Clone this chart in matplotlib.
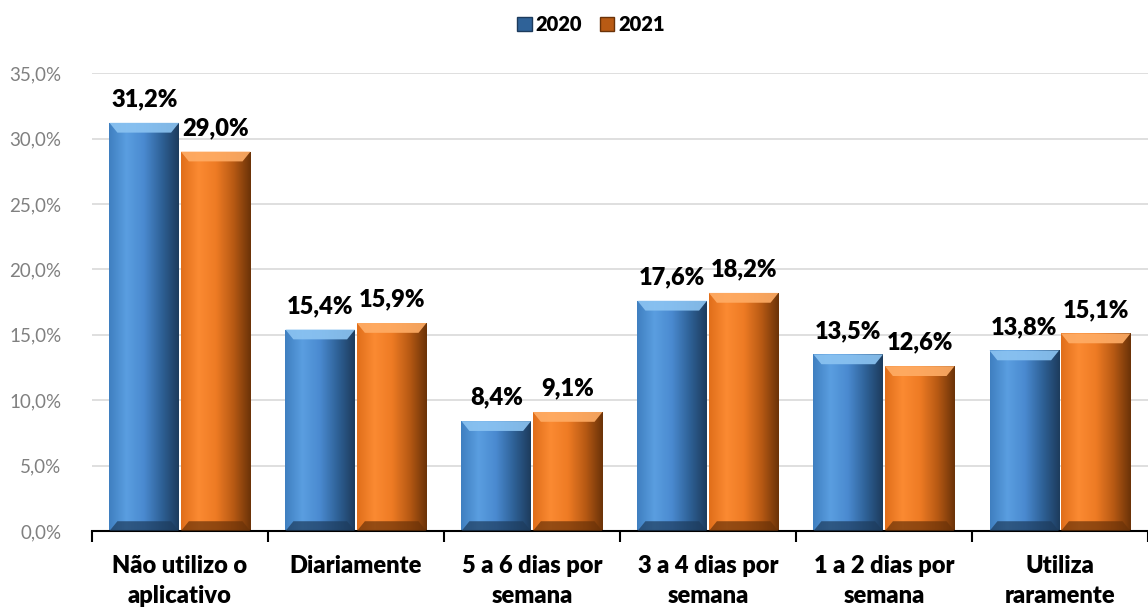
"""Frequency of app use, 2020 vs 2021 (bevelled Excel-style bars)."""
import matplotlib

matplotlib.use("Agg")
import matplotlib.pyplot as plt
import numpy as np
from matplotlib.colors import LinearSegmentedColormap
from matplotlib.patches import Polygon, Rectangle

categories = [
    "Não utilizo o\naplicativo",
    "Diariamente",
    "5 a 6 dias por\nsemana",
    "3 a 4 dias por\nsemana",
    "1 a 2 dias por\nsemana",
    "Utiliza\nraramente",
]
years = ["2020", "2021"]
vals_2020 = [31.2, 15.4, 8.4, 17.6, 13.5, 13.8]
vals_2021 = [29.0, 15.9, 9.1, 18.2, 12.6, 15.1]
yticks = [0, 5, 10, 15, 20, 25, 30, 35]

BLUE = ["#3f7fc0", "#5a9ee0", "#4a8ad0", "#2f6298", "#1d3b5c"]
ORANGE = ["#e06e1a", "#fb8a32", "#ee7b24", "#b85a14", "#6a3208"]
TOP_BLUE = "#8cc4f2"
TOP_ORANGE = "#ffad66"

plt.rcParams["font.family"] = ["Lato", "DejaVu Sans"]


def fmt(v):
    return f"{v:.1f}%".replace(".", ",")


def bevel(ax, patch, stops, top_color):
    x0, y0 = patch.get_x(), patch.get_y()
    w, h = patch.get_width(), patch.get_height()
    cmap = LinearSegmentedColormap.from_list("g", stops)
    grad = np.linspace(0, 1, 256).reshape(1, -1)
    im = ax.imshow(grad, cmap=cmap, extent=(x0, x0 + w, y0, y0 + h),
                   aspect="auto", zorder=2, interpolation="bicubic")
    im.set_clip_path(patch)
    bx, by = 0.045, 0.75
    top = Polygon([(x0, y0 + h), (x0 + w, y0 + h), (x0 + w - bx, y0 + h - by),
                   (x0 + bx, y0 + h - by)], closed=True, facecolor=top_color,
                  edgecolor="none", alpha=0.9, zorder=3)
    ax.add_patch(top)
    bot = Polygon([(x0, y0), (x0 + w, y0), (x0 + w - bx, y0 + by),
                   (x0 + bx, y0 + by)], closed=True, facecolor=stops[-1],
                  edgecolor="none", alpha=0.7, zorder=3)
    ax.add_patch(bot)


fig = plt.figure(figsize=(11.48, 6.09), dpi=100)
ax = fig.add_axes([0.0801, 0.128, 0.9199, 0.752])

x = np.arange(len(categories))
w = 0.395
off = 0.203
b1 = ax.bar(x - off, vals_2020, w, color="none", zorder=2)
b2 = ax.bar(x + off, vals_2021, w, color="none", zorder=2)
for p in b1:
    bevel(ax, p, BLUE, TOP_BLUE)
for p in b2:
    bevel(ax, p, ORANGE, TOP_ORANGE)

for bars, vals in ((b1, vals_2020), (b2, vals_2021)):
    for p, v in zip(bars, vals):
        ax.annotate(fmt(v), (p.get_x() + p.get_width() / 2, v),
                    xytext=(0, 9), textcoords="offset points",
                    ha="center", va="bottom", fontsize=17, fontweight="heavy")

ax.set_xlim(-0.5, len(categories) - 0.5)
ax.set_ylim(0, 35)
ax.set_yticks(yticks)
ax.set_yticklabels([fmt(t) for t in yticks], color="#808080", fontsize=13.5)
ax.yaxis.grid(True, color="#d9d9d9", linewidth=1.2)
ax.set_axisbelow(True)
ax.tick_params(axis="y", length=0, pad=22)

ax.set_xticks(x)
ax.set_xticklabels(categories, fontsize=17, fontweight="heavy", linespacing=1.45)
ax.set_xticks(np.arange(len(categories) + 1) - 0.5, minor=True)
ax.tick_params(axis="x", which="major", length=0, pad=17)
ax.tick_params(axis="x", which="minor", length=8, width=1.5, color="black")

for s in ("left", "right", "top"):
    ax.spines[s].set_visible(False)
ax.spines["bottom"].set_linewidth(1.5)

handles = [Rectangle((0, 0), 1, 1, facecolor=BLUE[3], edgecolor=BLUE[4]),
           Rectangle((0, 0), 1, 1, facecolor=ORANGE[3], edgecolor=ORANGE[4])]
fig.legend(handles, years, loc="upper center", bbox_to_anchor=(0.515, 1.005),
           ncol=2, frameon=False, handlelength=0.7, handleheight=0.7,
           handletextpad=0.2, columnspacing=0.9,
           prop={"weight": "heavy", "size": 14.5})

fig.savefig("out.png", dpi=100)
